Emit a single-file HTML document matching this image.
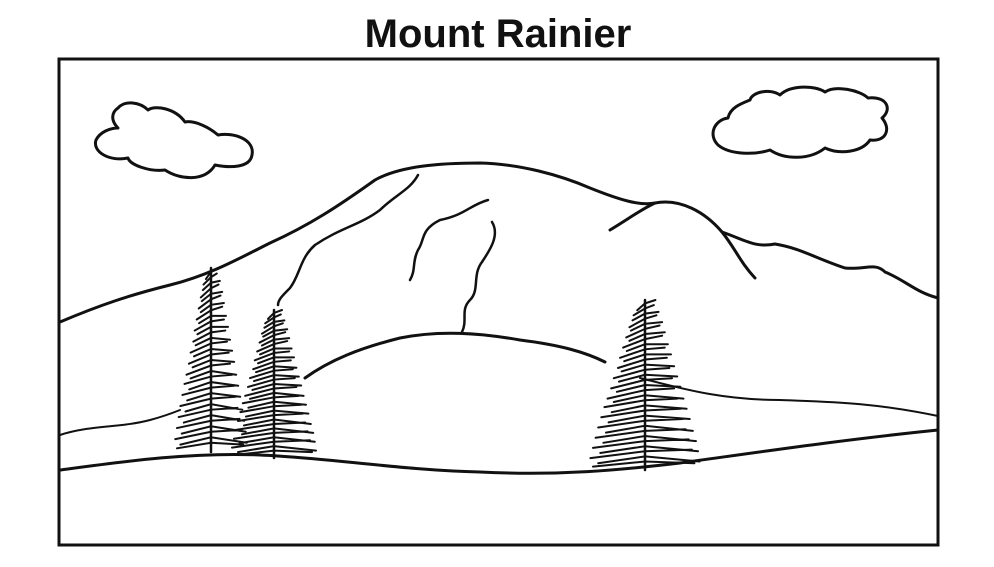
<!DOCTYPE html>
<html><head><meta charset="utf-8"><style>
body{margin:0;background:#fff;width:994px;height:562px;overflow:hidden}
</style></head><body>
<svg width="994" height="562" viewBox="0 0 994 562" xmlns="http://www.w3.org/2000/svg">
<defs>
<g id="tree" fill="none" stroke="#111" stroke-linecap="round">
<path vector-effect="non-scaling-stroke" stroke-width="2.5" d="M0,0 L0,100"/>
<path vector-effect="non-scaling-stroke" stroke-width="2" d="
M-.15,6 L0,2 L.2,0
M-.22,9 L0,5 L.17,3
M-.24,12 L0,8 L.26,7
M-.3,16 L0,11 L.22,9
M-.27,18 L0,14 L.33,13
M-.36,22 L0,17 L.28,15
M-.3,24 L0,20 L.38,19
M-.42,28 L0,23 L.33,21
M-.35,30 L0,26 L.44,26
M-.48,34 L0,29 L.38,28
M-.4,36 L0,32 L.5,32
M-.52,40 L0,35 L.42,34
M-.45,42 L0,38 L.56,39
M-.6,46 L0,41 L.47,40
M-.5,48 L0,44 L.62,45
M-.65,52 L0,47 L.52,46
M-.54,54 L0,50 L.68,51
M-.72,58 L0,53 L.56,52
M-.6,60 L0,56 L.74,58
M-.78,63 L0,59 L.62,58
M-.64,66 L0,62 L.8,64
M-.84,69 L0,65 L.68,64
M-.7,72 L0,68 L.86,70
M-.9,75 L0,71 L.72,70
M-.75,78 L0,74 L.92,77
M-.95,81 L0,77 L.78,76
M-.8,84 L0,80 L.98,83
M-1,87 L0,83 L.84,82
M-.86,90 L0,86 L1.02,89
M-1.05,93 L0,89 L.9,88
M-.9,96 L0,92 L1.05,95
M-1,98 L0,95 L.95,96"/>
</g>
</defs>
<text x="498" y="47" text-anchor="middle" font-family="Liberation Sans, sans-serif" font-weight="bold" font-size="40" fill="#111">Mount Rainier</text>
<rect x="59" y="59" width="879" height="486" fill="none" stroke="#111" stroke-width="3"/>
<g fill="none" stroke="#111" stroke-width="3" stroke-linecap="round" stroke-linejoin="round">
<path d="M60,322 C100,305 130,295 170,285 C210,275 240,258 270,243 C310,225 340,205 375,180 C400,166 440,163 480,163 C520,164 560,175 590,188 C620,200 640,206 655,203 C680,198 705,212 722,232 C745,240 755,248 775,244 C800,248 815,258 845,268 C865,270 875,262 885,272 C905,280 915,292 938,298"/>
<path d="M610,230 C630,218 640,210 655,203"/>
<path d="M722,232 C735,248 740,262 755,278"/>
<path d="M418,175 C410,190 395,195 380,210 C360,225 340,228 315,245 C300,258 300,275 290,288 C282,296 278,300 278,305" stroke-width="2.5"/>
<path d="M488,200 C470,205 465,215 440,220 C420,230 425,240 418,250 C412,262 416,270 410,280" stroke-width="2.5"/>
<path d="M492,222 C500,235 490,250 482,262 C472,275 480,290 470,300 C460,310 468,320 462,332" stroke-width="2.5"/>
<path d="M305,378 C330,360 360,348 400,338 C440,330 480,333 520,340 C560,345 585,352 605,362"/>
<path d="M640,378 C680,388 720,400 780,400 C830,402 870,402 938,416" stroke-width="2"/>
<path d="M60,435 C90,425 120,428 150,420 C165,416 175,412 180,410" stroke-width="2"/>
<path d="M60,470 C120,462 190,452 260,455 C330,458 400,470 480,472 C560,476 620,470 680,463 C760,452 840,440 938,430"/>
<path d="M118,108 C125,100 140,102 148,110 C155,105 175,108 185,122 C195,120 210,128 218,135 C235,132 255,140 252,155 C250,168 230,168 215,165 C205,182 180,180 165,170 C150,172 130,165 128,158 C110,162 92,152 96,140 C100,132 110,128 118,128 C110,120 112,112 118,108 Z"/>
<path d="M750,100 C752,92 770,88 780,95 C790,85 815,85 825,92 C835,85 860,90 868,98 C888,96 892,110 882,118 C892,130 885,142 870,140 C862,152 840,155 825,148 C810,160 785,160 770,150 C755,155 730,155 718,145 C708,135 714,120 728,118 C730,108 740,104 750,100 Z"/>
</g>
<use href="#tree" transform="translate(211,268) scale(34,1.84)"/>
<use href="#tree" transform="translate(274,310) scale(40,1.48)"/>
<use href="#tree" transform="translate(645,300) scale(52,1.7)"/>
</svg>
</body></html>
